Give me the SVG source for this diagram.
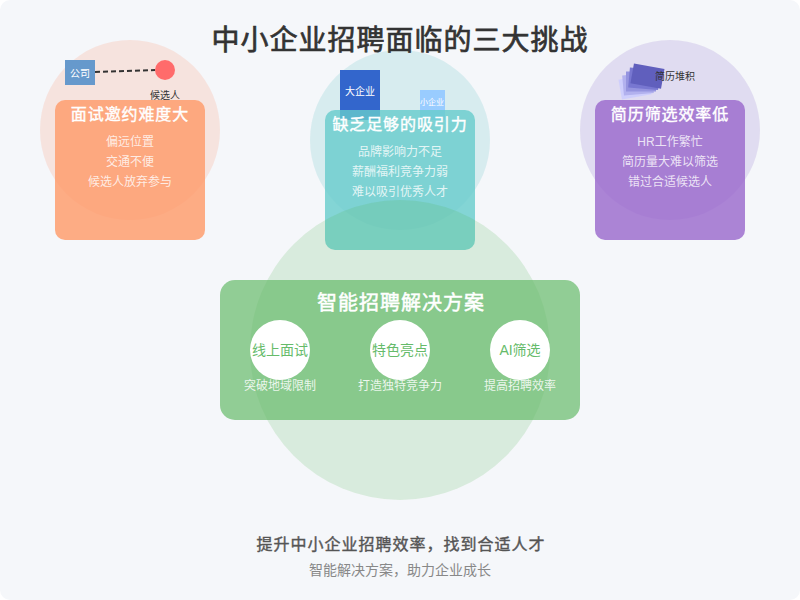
<svg xmlns="http://www.w3.org/2000/svg" width="800" height="600" viewBox="0 0 800 600">
<style>
text{font-family:"Liberation Sans","Noto Sans CJK SC",sans-serif;text-anchor:middle}
.h{font-size:16px;fill:#fff;stroke:#fff;stroke-width:.4;letter-spacing:.9px}
.b{font-size:12px;fill:#fff;fill-opacity:.8}
.s{font-size:10px;fill:#333}
.c{font-size:14px;fill:#66bb6a}
.d{font-size:12px;fill:#fff;fill-opacity:.85}
</style>
<rect width="800" height="600" rx="10" fill="#f5f7fa"/>
<g id="interview">
<circle cx="130" cy="130" r="90" fill="#ff7043" opacity=".15"/>
<rect x="65" y="60" width="30" height="25" fill="#6699cc"/>
<text x="80" y="77" font-size="10" fill="#fff">公司</text>
<circle cx="165" cy="70" r="10" fill="#ff6b6b"/>
<text class="s" x="165" y="99">候选人</text>
<rect x="55" y="100" width="150" height="140" rx="10" fill="#ff9966" opacity=".8"/>
<text class="h" x="130" y="120">面试邀约难度大</text>
<text class="b" x="130" y="146">偏远位置</text>
<text class="b" x="130" y="166">交通不便</text>
<text class="b" x="130" y="186">候选人放弃参与</text>
</g>
<g id="connectors"><line x1="95" y1="72" x2="155" y2="70" stroke="#333" stroke-width="2" stroke-dasharray="5,3"/></g>
<g id="attraction">
<circle cx="400" cy="140" r="90" fill="#30b0b8" opacity=".15"/>
<rect x="340" y="70" width="40" height="50" fill="#3366cc"/>
<text x="360" y="95" font-size="10" fill="#fff">大企业</text>
<rect x="420" y="90" width="25" height="30" fill="#99ccff"/>
<text x="432" y="105" font-size="8" fill="#fff">小企业</text>
<rect x="325" y="110" width="150" height="140" rx="10" fill="#66cccc" opacity=".8"/>
<text class="h" x="400" y="130">缺乏足够的吸引力</text>
<text class="b" x="400" y="156">品牌影响力不足</text>
<text class="b" x="400" y="176">薪酬福利竞争力弱</text>
<text class="b" x="400" y="196">难以吸引优秀人才</text>
</g>
<g id="screening">
<circle cx="670" cy="130" r="90" fill="#7e57c2" opacity=".17"/>
<g opacity=".85">
<rect x="620" y="77" width="30" height="20" transform="rotate(-10 635 87)" fill="#ccccff"/>
<rect x="623" y="74.25" width="30" height="20" transform="rotate(-5 638 84.25)" fill="#aaaaee"/>
<rect x="626" y="71.5" width="30" height="20" fill="#8888dd"/>
<rect x="629" y="68.75" width="30" height="20" transform="rotate(5 644 78.75)" fill="#6666cc"/>
<rect x="632" y="66" width="31" height="20" transform="rotate(10 647 76)" fill="#4a4ab4"/>
</g>
<text class="s" x="675" y="80">简历堆积</text>
<rect x="595" y="100" width="150" height="140" rx="10" fill="#9966cc" opacity=".8"/>
<text class="h" x="670" y="120">简历筛选效率低</text>
<text class="b" x="670" y="146">HR工作繁忙</text>
<text class="b" x="670" y="166">简历量大难以筛选</text>
<text class="b" x="670" y="186">错过合适候选人</text>
</g>
<g id="solution">
<circle cx="400" cy="350" r="150" fill="#4caf50" opacity=".17"/>
<rect x="220" y="280" width="360" height="140" rx="15" fill="#66bb6a" opacity=".7"/>
<text x="401" y="310" font-size="20" fill="#fff" stroke="#fff" stroke-width=".5" letter-spacing="1">智能招聘解决方案</text>
<circle cx="280" cy="350" r="30" fill="#fff"/><text class="c" x="280" y="355">线上面试</text>
<text class="d" x="280" y="390">突破地域限制</text>
<circle cx="400" cy="350" r="30" fill="#fff"/><text class="c" x="400" y="355">特色亮点</text>
<text class="d" x="400" y="390">打造独特竞争力</text>
<circle cx="520" cy="350" r="30" fill="#fff"/><text class="c" x="520" y="355">AI筛选</text>
<text class="d" x="520" y="390">提高招聘效率</text>
</g>
<text x="400" y="50" font-size="28" fill="#333" stroke="#333" stroke-width=".7" letter-spacing="1">中小企业招聘面临的三大挑战</text>
<text x="401" y="550" font-size="16" fill="#555" stroke="#555" stroke-width=".4" letter-spacing="1">提升中小企业招聘效率，找到合适人才</text>
<text x="400" y="575" font-size="14" fill="#888">智能解决方案，助力企业成长</text>
</svg>
